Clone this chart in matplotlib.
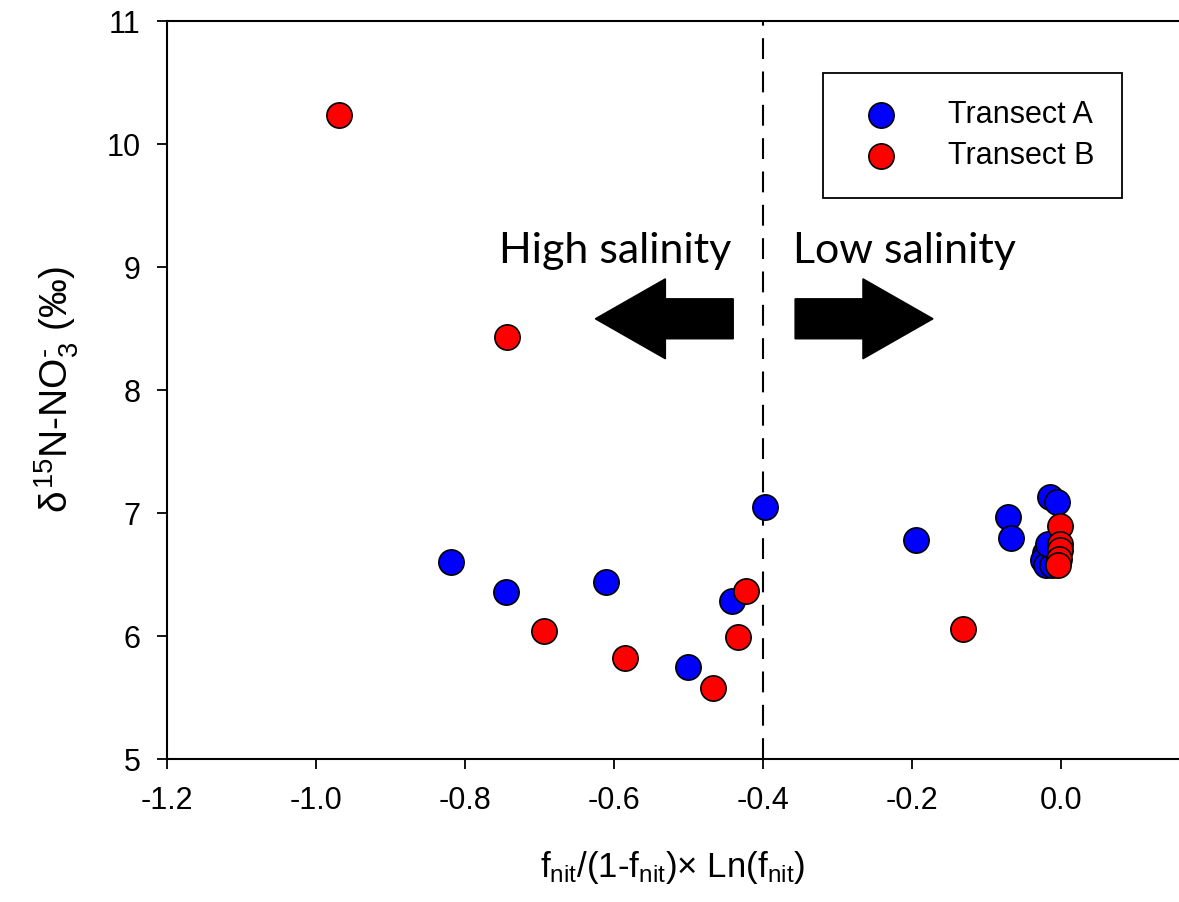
import matplotlib
matplotlib.use("Agg")
import matplotlib.pyplot as plt
from matplotlib.patches import FancyArrow

plt.rcParams['font.family'] = ['Liberation Sans', 'DejaVu Sans']
plt.rcParams['mathtext.fontset'] = 'custom'
plt.rcParams['mathtext.rm'] = 'Liberation Sans'
plt.rcParams['mathtext.it'] = 'Liberation Sans'

# Transect A (blue)
xa = [-0.819, -0.745, -0.611, -0.501, -0.441, -0.397, -0.195,
      -0.071, -0.067, -0.015, -0.005, -0.022, -0.025, -0.020, -0.012, -0.018]
ya = [6.60, 6.36, 6.44, 5.75, 6.29, 7.05, 6.78,
      6.97, 6.80, 7.13, 7.09, 6.68, 6.62, 6.58, 6.58, 6.75]

# Transect B (red)
xb = [-0.969, -0.744, -0.694, -0.585, -0.467, -0.434, -0.423, -0.132,
      -0.002, -0.002, -0.002, -0.003, -0.004]
yb = [10.24, 8.43, 6.04, 5.82, 5.58, 5.99, 6.37, 6.06,
      6.90, 6.75, 6.70, 6.63, 6.58]

xticks = [-1.2, -1.0, -0.8, -0.6, -0.4, -0.2, 0.0]
yticks = [5, 6, 7, 8, 9, 10, 11]

fig = plt.figure(figsize=(11.79, 9.02), dpi=100)
ax = fig.add_axes([0.1414, 0.1582, 0.8586, 0.8185])

ax.axvline(-0.4, color='black', lw=1.5, dashes=(10, 6), zorder=1)

ax.scatter(xa, ya, s=330, c='#0000ff', edgecolors='black', linewidths=1.2,
           label='Transect A', zorder=3)
ax.scatter(xb, yb, s=330, c='#ff0000', edgecolors='black', linewidths=1.2,
           label='Transect B', zorder=4)

# salinity arrows and labels
ax.add_patch(FancyArrow(-0.440, 8.58, -0.185, 0, width=0.325, head_width=0.65,
                        head_length=0.094, length_includes_head=True,
                        color='black', zorder=2))
ax.add_patch(FancyArrow(-0.357, 8.58, 0.185, 0, width=0.325, head_width=0.65,
                        head_length=0.094, length_includes_head=True,
                        color='black', zorder=2))
ax.text(-0.443, 9.03, 'High salinity', family='Lato', fontsize=31,
        ha='right', va='baseline')
ax.text(-0.360, 9.03, 'Low salinity', family='Lato', fontsize=31,
        ha='left', va='baseline')

ax.set_xlim(-1.2, 0.158)
ax.set_ylim(5, 11)
ax.set_xticks(xticks)
ax.set_xticklabels(['%.1f' % t for t in xticks])
ax.set_yticks(yticks)
ax.tick_params(direction='out', length=7, width=1.3, labelsize=22, pad=12)
ax.spines['right'].set_visible(False)
for s in ['left', 'bottom', 'top']:
    ax.spines[s].set_linewidth(1.5)

ax.set_xlabel(r'f$_{\mathrm{nit}}$/(1-f$_{\mathrm{nit}}$)× Ln(f$_{\mathrm{nit}}$)',
              fontsize=25, labelpad=24)
ax.set_ylabel(r'$\delta^{15}$N-NO$_3^{\text{-}}$ (‰)', fontsize=28, labelpad=18)

leg = ax.legend(loc='upper left', bbox_to_anchor=(0.648, 0.930), fontsize=22,
                frameon=True, fancybox=False, edgecolor='black', framealpha=1,
                borderpad=0.9, labelspacing=0.35, handletextpad=1.2,
                borderaxespad=0, handlelength=2.0)
leg.get_frame().set_linewidth(1.3)

fig.savefig('out.png', dpi=100)
